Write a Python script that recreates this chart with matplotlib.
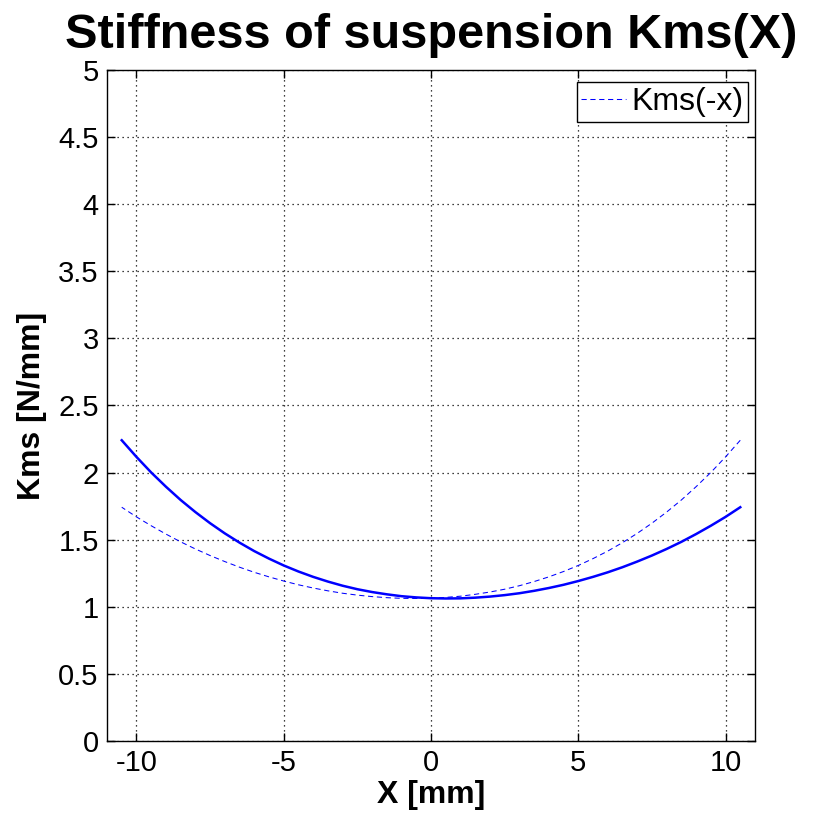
import matplotlib
matplotlib.use("Agg")
import matplotlib.pyplot as plt
import numpy as np

plt.rcParams['font.family'] = ['Liberation Sans', 'DejaVu Sans']

# Kms(x) [N/mm], x in mm
x_mm = [-10.5, -10, -9.5, -9, -8.5, -8, -7.5, -7, -6.5, -6, -5.5, -5, -4.5, -4,
        -3.5, -3, -2.5, -2, -1.5, -1, -0.5, 0, 0.5, 1, 1.5, 2, 2.5, 3, 3.5, 4,
        4.5, 5, 5.5, 6, 6.5, 7, 7.5, 8, 8.5, 9, 9.5, 10, 10.5]
kms = [2.241, 2.117, 2.001, 1.895, 1.796, 1.706, 1.623, 1.547, 1.478, 1.415, 1.359,
       1.308, 1.263, 1.223, 1.188, 1.157, 1.131, 1.110, 1.093, 1.079, 1.070, 1.064,
       1.062, 1.063, 1.068, 1.076, 1.087, 1.101, 1.119, 1.140, 1.164, 1.192, 1.223,
       1.257, 1.295, 1.337, 1.382, 1.431, 1.484, 1.542, 1.604, 1.670, 1.742]

xticks = [-10, -5, 0, 5, 10]
yticks = [0, 0.5, 1, 1.5, 2, 2.5, 3, 3.5, 4, 4.5, 5]

fig = plt.figure(figsize=(8.34, 8.33), dpi=100)
ax = fig.add_axes([107/834, 92/833, 648/834, 671/833])

x = np.array(x_mm)
k = np.array(kms)
ax.plot(x, k, color=(0, 0, 1), lw=1.8)
ax.plot(-x, k, color=(0, 0, 1), lw=0.75, dashes=(5, 3.5), label='Kms(-x)')

ax.set_xlim(-11, 11)
ax.set_ylim(0, 5)
ax.set_xticks(xticks)
ax.set_yticks(yticks)
ax.set_xticklabels(['%g' % t for t in xticks])
ax.set_yticklabels(['%g' % t for t in yticks])
ax.tick_params(direction='in', length=6, width=1, labelsize=21,
               top=True, right=True, pad=6)
ax.grid(True, color='black', linestyle=(0, (1, 3)), linewidth=0.9)
for s in ax.spines.values():
    s.set_linewidth(1)

ax.set_xlabel('X [mm]', fontsize=23, fontweight='bold', labelpad=2)
ax.set_ylabel('Kms [N/mm]', fontsize=23, fontweight='bold', labelpad=8)
ax.set_title('Stiffness of suspension Kms(X)', fontsize=35, fontweight='bold', pad=16)

leg = ax.legend(loc='upper right', bbox_to_anchor=(0.989, 0.982), borderaxespad=0,
                fontsize=23, handlelength=1.4, handletextpad=0.15,
                borderpad=0.15, fancybox=False, framealpha=1)
leg.get_frame().set_edgecolor('black')
leg.get_frame().set_linewidth(1)

fig.savefig('out.png', dpi=100)
